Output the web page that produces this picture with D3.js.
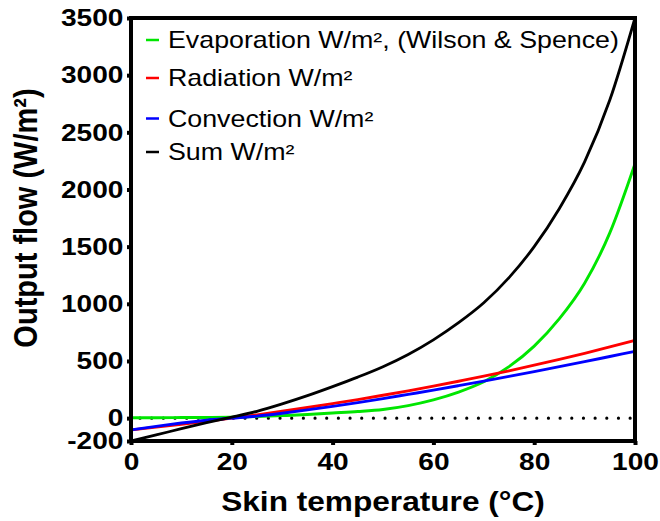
<!DOCTYPE html>
<html>
<head>
<meta charset="utf-8">
<script src="https://cdn.jsdelivr.net/npm/d3@7"></script>
<style>
    body{margin:0;background:#fff;}
    svg{display:block;}
    text{font-family:Arial, "Liberation Sans", sans-serif;fill:#000;}
</style>
</head>
<body>
<svg id="fig" width="660" height="521"></svg>
<script>
// skin temperature (°C)
const temps = [0, 5, 10, 15, 20, 25, 30, 35, 40, 45, 50, 55, 60, 65, 70, 75, 80, 85, 90, 95, 100];

// output flows (W/m²)
const evaporation = [4, 4, 5, 6, 8, 13, 22, 32, 45, 58, 76, 110, 160, 228, 318, 450, 630, 870, 1180, 1620, 2225];
const radiation   = [-103, -79, -54, -28, 0, 29, 60, 93, 127, 162, 200, 239, 280, 323, 367, 414, 463, 514, 567, 623, 681];
const convection  = [-103, -72, -43, -18, 0, 18, 43, 72, 103, 136, 171, 208, 245, 284, 324, 365, 407, 450, 494, 539, 584];
const sumFlow     = [-200, -147, -92, -40, 8, 60, 125, 197, 276, 359, 450, 557, 685, 835, 1009, 1229, 1500, 1834, 2241, 2782, 3500];

const seriesNames = ["Evaporation W/m², (Wilson & Spence)", "Radiation W/m²", "Convection W/m²", "Sum W/m²"];
const seriesColors = ["#00e600", "#ff0000", "#0000ff", "#000000"];
const seriesValues = [evaporation, radiation, convection, sumFlow];

const xTicks = [0, 20, 40, 60, 80, 100];
const yTicks = [-200, 0, 500, 1000, 1500, 2000, 2500, 3000, 3500];

// text in the original is a bit wider than plain Arial
const stretch = 1.13;
const tickStretch = 1.17;
const legendStretch = 1.165;

const svg = d3.select("#fig");
const plotLeft = 131, plotRight = 635, plotTop = 18, plotBottom = 441;

let xScale = d3.scaleLinear().domain([0, 100]).range([plotLeft, plotRight]);
let yScale = d3.scaleLinear().domain([-200, 3500]).range([plotBottom, plotTop]);

// dotted zero line
svg.append("line")
    .attr("x1", plotLeft + 9).attr("x2", plotRight)
    .attr("y1", yScale(0)).attr("y2", yScale(0))
    .attr("stroke", "#000")
    .attr("stroke-width", 3.2)
    .attr("stroke-linecap", "round")
    .attr("stroke-dasharray", "0 11.67");

// curves
let line = d3.line().curve(d3.curveMonotoneX);
seriesValues.forEach((vals, i) => {
    svg.append("path")
        .attr("d", line(temps.map((t, j) => [xScale(t), yScale(vals[j])])))
        .attr("fill", "none")
        .attr("stroke", seriesColors[i])
        .attr("stroke-width", i == 3 ? 2.8 : 2.9);
});

// frame
svg.append("rect")
    .attr("x", plotLeft).attr("y", plotTop)
    .attr("width", plotRight - plotLeft).attr("height", plotBottom - plotTop)
    .attr("fill", "none")
    .attr("stroke", "#000")
    .attr("stroke-width", 4);

// axes
let xAxis = svg.append("g")
    .attr("transform", `translate(0,${plotBottom})`)
    .call(d3.axisBottom(xScale).tickValues(xTicks).tickFormat(d => String(d)).tickSize(4).tickPadding(8));
let yAxis = svg.append("g")
    .attr("transform", `translate(${plotLeft},0)`)
    .call(d3.axisLeft(yScale).tickValues(yTicks).tickFormat(d => String(d)).tickSize(4).tickPadding(2.5));

[xAxis, yAxis].forEach(ax => {
    ax.select(".domain").remove();
    ax.selectAll(".tick line").attr("stroke-width", 4);
    ax.selectAll(".tick text")
        .attr("font-size", 24)
        .attr("font-weight", "bold")
        .attr("font-family", "Arial, 'Liberation Sans', sans-serif")
        .attr("transform", `scale(${tickStretch},1)`);
});

// axis titles
svg.append("text")
    .attr("transform", `translate(${(plotLeft + plotRight) / 2},511) scale(${stretch},1)`)
    .attr("text-anchor", "middle")
    .attr("font-size", 28)
    .attr("font-weight", "bold")
    .text("Skin temperature (°C)");

svg.append("text")
    .attr("transform", `translate(37,218) rotate(-90) scale(1,${stretch})`)
    .attr("text-anchor", "middle")
    .attr("font-size", 29)
    .attr("font-weight", "bold")
    .text("Output flow (W/m²)");

// legend
const legendBase = [48, 86, 126.5, 160];
seriesNames.forEach((name, i) => {
    let y = legendBase[i];
    svg.append("line")
        .attr("x1", 146).attr("x2", 159)
        .attr("y1", y - 8).attr("y2", y - 8)
        .attr("stroke", seriesColors[i])
        .attr("stroke-width", 2.5);
    svg.append("text")
        .attr("transform", `translate(168,${y}) scale(${legendStretch},1)`)
        .attr("font-size", 23)
        .text(name);
});
</script>
</body>
</html>
